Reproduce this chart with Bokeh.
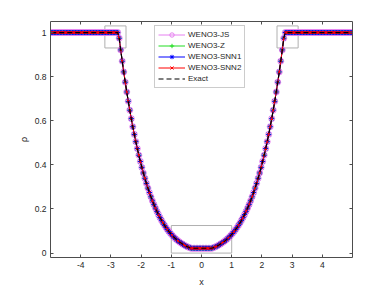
import numpy as np
from bokeh.plotting import figure
from bokeh.models import Range1d, FixedTicker, LinearAxis, Legend, LegendItem
from bokeh.embed import file_html
from bokeh.resources import INLINE

# ---------------- data ----------------
# cell centres on [-5, 5] with 200 cells
x_right = np.linspace(0.025, 4.975, 100)
x = np.concatenate([-x_right[::-1], x_right])

# density for x > 0 (profile is symmetric)
rho_right = ([0.0219] * 7 +
             [0.0233, 0.0262, 0.0293, 0.0328, 0.0366, 0.0407, 0.0452, 0.0500,
              0.0553, 0.0610, 0.0672, 0.0739, 0.0811, 0.0888, 0.0972, 0.1061,
              0.1157, 0.1259, 0.1369, 0.1486, 0.1612, 0.1745, 0.1887, 0.2039,
              0.2199, 0.2370, 0.2552, 0.2744, 0.2948, 0.3163, 0.3391, 0.3632,
              0.3886, 0.4155, 0.4438, 0.4737, 0.5051, 0.5382, 0.5730, 0.6095,
              0.6479, 0.6882, 0.7305, 0.7749, 0.8213, 0.8700, 0.9210, 0.9743] +
             [1.0] * 45)
rho = rho_right[::-1] + rho_right

rho_js = rho
rho_z = rho
rho_snn1 = rho
rho_snn2 = rho
rho_exact = rho

series_names = ["WENO3-JS", "WENO3-Z", "WENO3-SNN1", "WENO3-SNN2", "Exact"]

x_ticks = [-4, -3, -2, -1, 0, 1, 2, 3, 4]
x_tick_labels = ["-4", "-3", "-2", "-1", "0", "1", "2", "3", "4"]
y_ticks = [0, 0.2, 0.4, 0.6, 0.8, 1]
y_tick_labels = ["0", "0.2", "0.4", "0.6", "0.8", "1"]

# zoom-region boxes
box_left = [-3.2, 2.5, -1.0]
box_right = [-2.5, 3.2, 1.0]
box_bottom = [0.93, 0.93, 0.0]
box_top = [1.03, 1.03, 0.125]

# ---------------- figure ----------------
FONT = "Liberation Sans"
AX = "#4d4d4d"

p = figure(width=386, height=289, x_range=Range1d(-5, 5), y_range=Range1d(-0.02, 1.05),
           output_backend="svg", toolbar_location=None,
           min_border_left=50, min_border_right=34, min_border_top=21, min_border_bottom=30)
p.outline_line_color = None
p.xgrid.grid_line_color = None
p.ygrid.grid_line_color = None
p.background_fill_color = "white"
p.border_fill_color = "white"

p.add_layout(LinearAxis(), "above")
p.add_layout(LinearAxis(), "right")

for ax in p.xaxis:
    ax.ticker = FixedTicker(ticks=x_ticks)
for ax in p.yaxis:
    ax.ticker = FixedTicker(ticks=y_ticks)
p.below[0].major_label_overrides = dict(zip(x_ticks, x_tick_labels))
p.left[0].major_label_overrides = dict(zip(y_ticks, y_tick_labels))
p.above[0].major_label_overrides = {t: "" for t in x_ticks}
p.right[0].major_label_overrides = {t: "" for t in y_ticks}

for ax in p.axis:
    ax.axis_line_color = AX
    ax.axis_line_width = 1
    ax.major_tick_line_color = AX
    ax.major_tick_in = 3
    ax.major_tick_out = 0
    ax.minor_tick_line_color = None
    ax.major_label_text_font = FONT
    ax.major_label_text_font_size = "8.5px"
    ax.major_label_text_color = "#262626"
    ax.major_label_standoff = 4

p.above[0].major_label_standoff = 0
p.right[0].major_label_standoff = 0

p.below[0].axis_label = "x"
p.below[0].axis_label_standoff = 6
p.left[0].axis_label = "ρ"
p.left[0].axis_label_standoff = 3
for ax in (p.below[0], p.left[0]):
    ax.axis_label_text_font = FONT
    ax.axis_label_text_font_size = "9px"
    ax.axis_label_text_font_style = "normal"
    ax.axis_label_text_color = "#262626"

# zoom boxes
p.quad(left=box_left, right=box_right, bottom=box_bottom, top=box_top,
       fill_color=None, line_color="#b0b0b0", line_width=1)

# series
c_js, c_z, c_s1, c_s2 = "#e680f0", "#22dd22", "#0000ff", "#ff0000"

l1 = p.line(x, rho_js, line_color=c_js, line_width=1)
m1 = p.scatter(x, rho_js, marker="circle", size=6, fill_color=None, line_color=c_js, line_width=1)
l2 = p.line(x, rho_z, line_color=c_z, line_width=1)
m2 = p.scatter(x, rho_z, marker="cross", size=5, line_color=c_z, line_width=1)
l3 = p.line(x, rho_snn1, line_color=c_s1, line_width=1)
m3 = p.scatter(x, rho_snn1, marker="asterisk", size=5, line_color=c_s1, line_width=1)
l4 = p.line(x, rho_snn2, line_color=c_s2, line_width=1)
m4 = p.scatter(x, rho_snn2, marker="x", size=4, line_color=c_s2, line_width=1)
l5 = p.line(x, rho_exact, line_color="black", line_width=1.2, line_dash="5 3")

legend = Legend(items=[
    LegendItem(label=series_names[0], renderers=[l1, m1]),
    LegendItem(label=series_names[1], renderers=[l2, m2]),
    LegendItem(label=series_names[2], renderers=[l3, m3]),
    LegendItem(label=series_names[3], renderers=[l4, m4]),
    LegendItem(label=series_names[4], renderers=[l5]),
], location=(104, 169))
legend.label_text_font = FONT
legend.label_text_font_size = "8px"
legend.label_text_color = "#262626"
legend.label_height = 11
legend.glyph_height = 11
legend.glyph_width = 27
legend.label_standoff = 3
legend.spacing = 0
legend.padding = 3
legend.margin = 0
legend.border_line_color = "#999999"
legend.border_line_width = 1
legend.background_fill_alpha = 1
p.add_layout(legend, "center")

open("out.html", "w").write(file_html(p, INLINE))
